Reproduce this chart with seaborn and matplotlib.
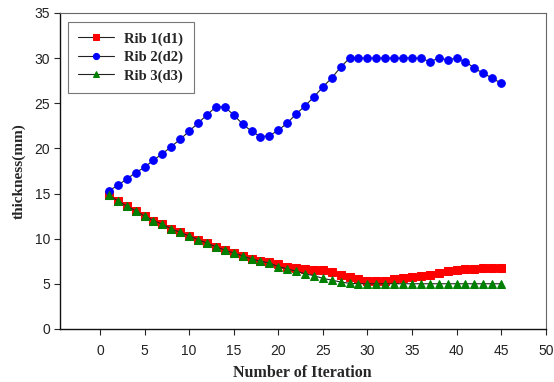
import matplotlib
matplotlib.use("Agg")
import matplotlib.pyplot as plt
import seaborn as sns
import pandas as pd

iterations = list(range(1, 46))

rib1 = [14.8, 14.2, 13.6, 13.1, 12.5, 12.0, 11.6, 11.1, 10.7, 10.3,
        9.9, 9.5, 9.1, 8.75, 8.4, 8.1, 7.75, 7.5, 7.45, 7.2,
        6.85, 6.8, 6.6, 6.55, 6.55, 6.3, 6.0, 5.75, 5.5, 5.35,
        5.3, 5.35, 5.5, 5.6, 5.7, 5.85, 6.0, 6.2, 6.4, 6.55,
        6.6, 6.65, 6.7, 6.7, 6.7]

rib2 = [15.3, 15.9, 16.6, 17.3, 17.9, 18.7, 19.4, 20.2, 21.0, 21.9,
        22.8, 23.7, 24.6, 24.6, 23.7, 22.7, 21.9, 21.3, 21.4, 22.0,
        22.8, 23.8, 24.7, 25.7, 26.8, 27.8, 29.0, 30.0, 30.0, 30.0,
        30.0, 30.0, 30.0, 30.0, 30.0, 30.0, 29.6, 30.0, 29.8, 30.0,
        29.6, 28.9, 28.3, 27.8, 27.2]

rib3 = [14.8, 14.2, 13.6, 13.1, 12.5, 12.0, 11.6, 11.1, 10.7, 10.3,
        9.9, 9.5, 9.1, 8.75, 8.4, 8.1, 7.75, 7.5, 7.3, 6.9,
        6.65, 6.4, 6.1, 5.9, 5.6, 5.4, 5.2, 5.05, 5.0, 5.0,
        5.0, 5.0, 5.0, 5.0, 5.0, 5.0, 5.0, 5.0, 5.0, 5.0,
        5.0, 5.0, 5.0, 5.0, 5.0]

series = [
    ("Rib 1(d1)", rib1, "s", "#ff0000"),
    ("Rib 2(d2)", rib2, "o", "#0000ff"),
    ("Rib 3(d3)", rib3, "^", "#008000"),
]

sns.set_style("ticks")
plt.rcParams["font.family"] = ["Liberation Sans", "DejaVu Sans"]

fig = plt.figure(figsize=(5.54, 3.82), dpi=100)
ax = fig.add_axes([0.108, 0.139, 0.877, 0.827])

for name, values, marker, color in series:
    df = pd.DataFrame({"iteration": iterations, "thickness": values})
    sns.lineplot(data=df, x="iteration", y="thickness", ax=ax, color="#222222",
                 linewidth=0.8, marker=marker, markersize=5.5,
                 markerfacecolor=color, markeredgecolor=color, label=name)

ax.set_xlim(-4.5, 50)
ax.set_ylim(0, 35)
ax.set_xticks(range(0, 51, 5))
ax.set_yticks(range(0, 36, 5))

ax.tick_params(axis="both", labelsize=10, labelcolor="#222222", length=4, width=0.8)
ax.tick_params(axis="x", pad=7)
ax.tick_params(axis="y", pad=3)

for side in ["left", "bottom"]:
    ax.spines[side].set_color("#111111")
    ax.spines[side].set_linewidth(1.0)
for side in ["top", "right"]:
    ax.spines[side].set_visible(True)
    ax.spines[side].set_color("#666666")
    ax.spines[side].set_linewidth(0.8)

ax.set_xlabel("Number of Iteration", family="Liberation Serif", fontweight="bold",
              fontsize=11.5, labelpad=5)
ax.set_ylabel("thickness(mm)", family="Liberation Serif", fontweight="bold",
              fontsize=11, labelpad=6)

leg = ax.legend(loc="upper left", bbox_to_anchor=(0.016, 0.972), borderaxespad=0,
                fancybox=False, framealpha=1, edgecolor="#777777", borderpad=0.7,
                handlelength=2.5, handletextpad=0.7, labelspacing=0.35,
                markerscale=0.8,
                prop={"family": "Liberation Serif", "weight": "bold", "size": 10.5})
leg.get_frame().set_linewidth(0.8)

fig.savefig("out.png", dpi=100)
